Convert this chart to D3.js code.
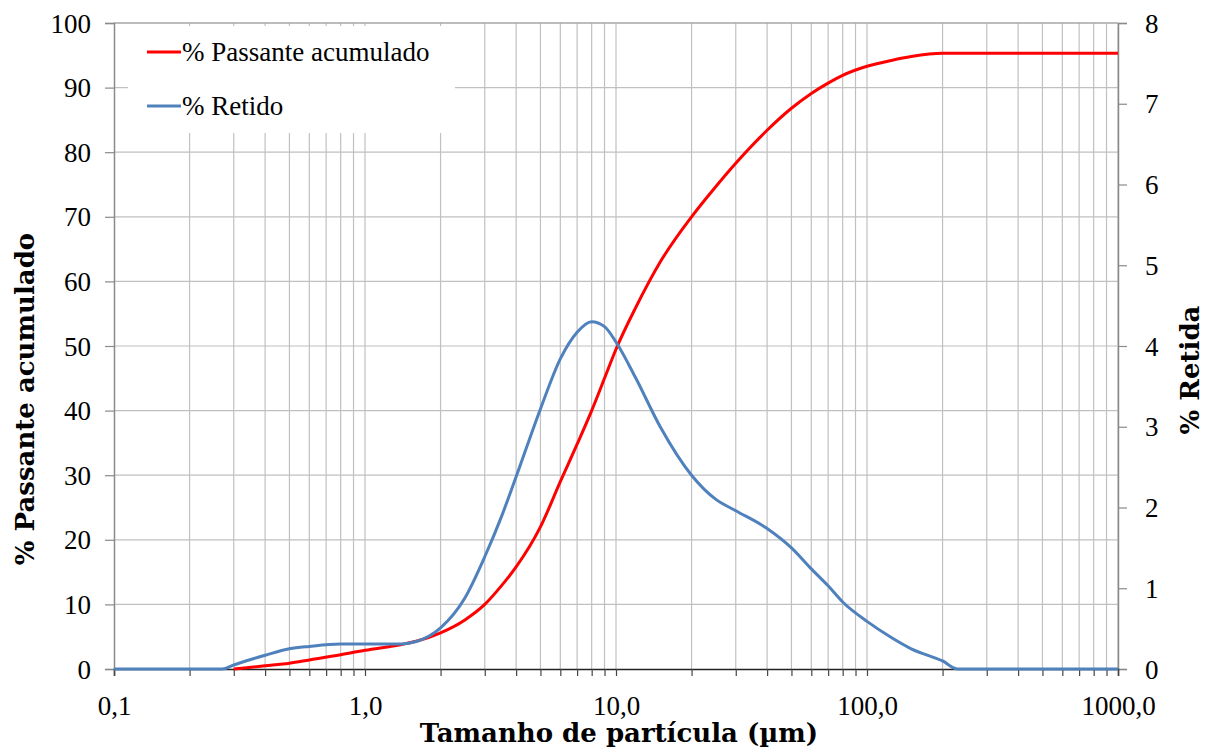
<!DOCTYPE html>
<html>
<head>
<meta charset="utf-8">
<title>Distribuição granulométrica</title>
<script src="https://d3js.org/d3.v7.min.js"></script>
<style>
  body { margin: 0; background: #fff; }
</style>
</head>
<body>
<script>
    // particle sizes (µm) where the curves were read
    var sizes = [0.1, 0.2, 0.27, 0.3, 0.4, 0.5, 0.6, 0.8, 1.0, 1.4, 1.6, 2.0, 2.5, 3.0, 3.5, 4, 5, 6, 7, 8, 9, 10,
                 12, 15, 20, 25, 30, 40, 50, 60, 70, 80, 100, 125, 150, 200, 230, 300, 500, 1000];
    // % Passante acumulado (left axis), null where the curve is not drawn
    var passante = [null, null, null, 0, 0.5, 0.9, 1.4, 2.2, 2.9, 3.8, 4.3, 5.6, 7.6, 10, 12.9, 15.8, 22, 29, 34.8, 40, 45, 49.5,
                    56, 63, 70, 74.7, 78.3, 83.4, 86.8, 89.1, 90.7, 91.9, 93.3, 94.2, 94.8, 95.3, 95.3, 95.3, 95.3, 95.3];
    // % Retido (right axis)
    var retido = [0, 0, 0, 0.05, 0.17, 0.25, 0.28, 0.31, 0.31, 0.31, 0.34, 0.51, 0.88, 1.39, 1.89, 2.38, 3.22, 3.84, 4.17, 4.3, 4.24, 4.05,
                  3.6, 3.0, 2.4, 2.1, 1.96, 1.74, 1.5, 1.24, 1.03, 0.83, 0.59, 0.39, 0.25, 0.1, 0, 0, 0, 0];

    var xMajor = [0.1, 1, 10, 100, 1000];
    var xMajorLabels = ["0,1", "1,0", "10,0", "100,0", "1000,0"];
    var leftTicks = [0, 10, 20, 30, 40, 50, 60, 70, 80, 90, 100];
    var rightTicks = [0, 1, 2, 3, 4, 5, 6, 7, 8];

    var width = 1211, height = 747;
    var mLeft = 114, mRight = 1118, mTop = 23, mBottom = 669;

    var svg = d3.select("body").append("svg")
        .attr("width", width)
        .attr("height", height);

    var x = d3.scaleLog().domain([0.1, 1000]).range([mLeft, mRight]);
    var yL = d3.scaleLinear().domain([0, 100]).range([mBottom, mTop]);
    var yR = d3.scaleLinear().domain([0, 8]).range([mBottom, mTop]);

    // all decade subdivisions for grid and ticks
    var xMinor = [];
    [0.1, 1, 10, 100].forEach(function(d) {
        for (var k = 1; k < 10; k++) xMinor.push(+(d * k).toPrecision(3));
    });
    xMinor.push(1000);

    var grid = svg.append("g").attr("stroke", "#c0c0c0").attr("stroke-width", 1.2);
    grid.selectAll("line.v").data(xMinor.slice(1)).enter().append("line")
        .attr("x1", function(d) { return x(d); }).attr("x2", function(d) { return x(d); })
        .attr("y1", mTop).attr("y2", mBottom);
    grid.selectAll("line.h").data(leftTicks.slice(1)).enter().append("line")
        .attr("x1", mLeft).attr("x2", mRight)
        .attr("y1", function(d) { return yL(d); }).attr("y2", function(d) { return yL(d); });

    // legend box hides the grid behind it
    svg.append("rect").attr("x", 128).attr("y", 26).attr("width", 327).attr("height", 107).attr("fill", "#fff");

    // plot frame top
    svg.append("line").attr("x1", mLeft).attr("x2", mRight).attr("y1", mTop).attr("y2", mTop)
        .attr("stroke", "#9a9a9a").attr("stroke-width", 1.2);

    var tickFont = "Liberation Serif";

    var gL = svg.append("g").attr("transform", "translate(" + mLeft + ",0)")
        .call(d3.axisLeft(yL).tickValues(leftTicks).tickSize(9).tickPadding(14));
    var gR = svg.append("g").attr("transform", "translate(" + mRight + ",0)")
        .call(d3.axisRight(yR).tickValues(rightTicks).tickSize(9).tickPadding(18));
    var gB = svg.append("g").attr("transform", "translate(0," + mBottom + ")")
        .call(d3.axisBottom(x).tickValues(xMinor).tickSize(7).tickPadding(20)
            .tickFormat(function(d) {
                var i = xMajor.indexOf(d);
                return i >= 0 ? xMajorLabels[i] : "";
            }));

    [gL, gR, gB].forEach(function(g) {
        g.attr("font-family", tickFont).attr("font-size", 27);
        g.selectAll("text").attr("fill", "#000");
        g.selectAll("line").attr("stroke", "#8a8a8a").attr("stroke-width", 1.2);
        g.select(".domain").attr("stroke", "#8a8a8a").attr("stroke-width", 1.5);
    });
    gB.selectAll("line").attr("stroke", "#444");
    gB.select(".domain").attr("stroke", "#222");
    gL.selectAll("text").attr("dy", "0.34em");
    gR.selectAll("text").attr("dy", "0.34em");
    gB.selectAll("text").attr("dy", "0.7em");

    // curves
    var lineL = d3.line()
        .defined(function(d) { return d[1] !== null; })
        .x(function(d) { return x(d[0]); })
        .y(function(d) { return yL(d[1]); })
        .curve(d3.curveMonotoneX);
    var lineR = d3.line()
        .x(function(d) { return x(d[0]); })
        .y(function(d) { return yR(d[1]); })
        .curve(d3.curveMonotoneX);

    svg.append("path")
        .datum(d3.zip(sizes, passante))
        .attr("d", lineL)
        .attr("fill", "none").attr("stroke", "#ff0000").attr("stroke-width", 3);

    svg.append("path")
        .datum(d3.zip(sizes, retido))
        .attr("d", lineR)
        .attr("fill", "none").attr("stroke", "#4f81bd").attr("stroke-width", 3);

    // legend
    var legend = [
        { label: "% Passante acumulado", color: "#ff0000", y: 52 },
        { label: "% Retido", color: "#4f81bd", y: 106 }
    ];
    legend.forEach(function(l) {
        svg.append("line").attr("x1", 147).attr("x2", 181).attr("y1", l.y).attr("y2", l.y)
            .attr("stroke", l.color).attr("stroke-width", 3);
        svg.append("text").attr("x", 182).attr("y", l.y).attr("dy", "0.33em")
            .attr("font-family", tickFont).attr("font-size", 27).text(l.label);
    });

    // axis titles
    var titleFont = "DejaVu Serif";
    svg.append("text")
        .attr("x", 619).attr("y", 742)
        .attr("text-anchor", "middle")
        .attr("font-family", titleFont).attr("font-weight", "bold").attr("font-size", 26)
        .text("Tamanho de partícula (µm)");
    svg.append("text")
        .attr("transform", "translate(34,399) rotate(-90)")
        .attr("text-anchor", "middle")
        .attr("font-family", titleFont).attr("font-weight", "bold").attr("font-size", 26)
        .text("% Passante acumulado");
    svg.append("text")
        .attr("transform", "translate(1199,370) rotate(-90)")
        .attr("text-anchor", "middle")
        .attr("font-family", titleFont).attr("font-weight", "bold").attr("font-size", 26)
        .text("% Retida");
</script>
</body>
</html>
